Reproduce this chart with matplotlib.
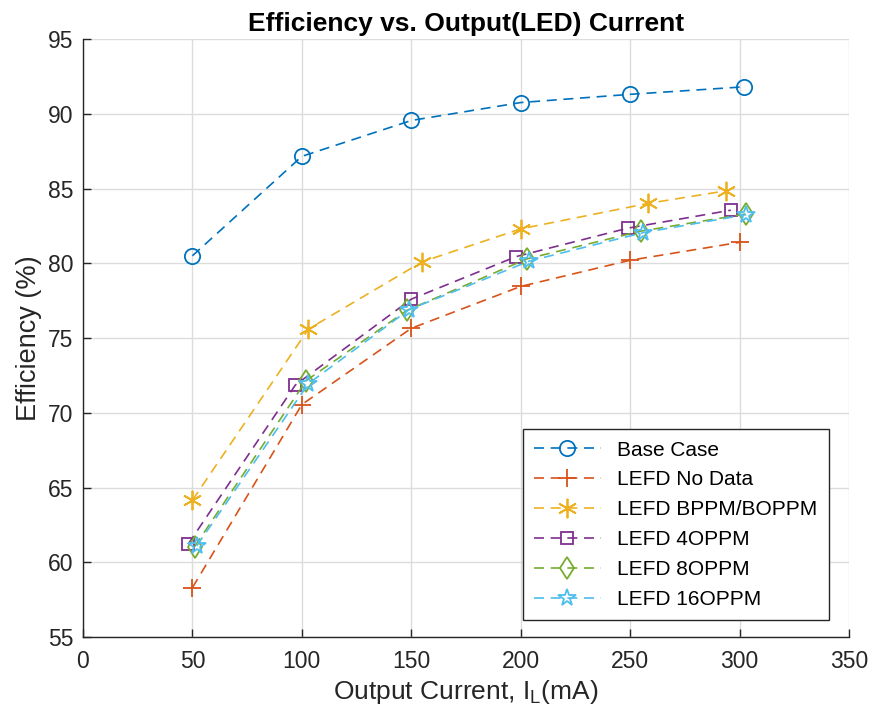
import matplotlib
matplotlib.use("Agg")
import matplotlib.pyplot as plt

plt.rcParams['font.family'] = ['Liberation Sans', 'DejaVu Sans']

# Data (x in mA, y in %)
base_x = [50, 100, 150, 200, 250, 302]
base_y = [80.5, 87.15, 89.55, 90.75, 91.3, 91.8]

nodata_x = [50, 100, 150, 200, 250, 300]
nodata_y = [58.3, 70.55, 75.65, 78.45, 80.2, 81.4]

bppm_x = [50, 103, 155, 200, 258, 294]
bppm_y = [64.15, 75.6, 80.1, 82.3, 84.0, 84.85]

oppm4_x = [48, 97, 150, 198, 249, 296]
oppm4_y = [61.2, 71.85, 77.6, 80.45, 82.35, 83.55]

oppm8_x = [51, 102, 148, 203, 255, 303]
oppm8_y = [61.05, 72.15, 76.85, 80.3, 82.15, 83.3]

oppm16_x = [52, 103, 149, 204, 256, 303]
oppm16_y = [61.1, 71.95, 76.9, 80.15, 82.05, 83.25]

# (x, y, label, colour, marker, marker size)
series = [
    (base_x, base_y, 'Base Case', '#0072BD', 'o', 11),
    (nodata_x, nodata_y, 'LEFD No Data', '#D95319', '+', 13),
    (bppm_x, bppm_y, 'LEFD BPPM/BOPPM', '#EDB120', (6, 2, 0), 14),
    (oppm4_x, oppm4_y, 'LEFD 4OPPM', '#7E2F8E', 's', 9),
    (oppm8_x, oppm8_y, 'LEFD 8OPPM', '#77AC30', 'd', 11.5),
    (oppm16_x, oppm16_y, 'LEFD 16OPPM', '#4DBEEE', '*', 13),
]

fig = plt.figure(figsize=(8.7, 7.21), dpi=100)
ax = fig.add_axes([0.0954, 0.1165, 0.8805, 0.8294])

for x, y, label, color, marker, ms in series:
    ax.plot(x, y, linestyle=(0, (6, 4)), color=color, linewidth=1.2,
            marker=marker, markersize=ms, markerfacecolor='none',
            markeredgecolor=color, markeredgewidth=1.3, label=label)

ax.set_xlim(0, 350)
ax.set_ylim(55, 95)
ax.set_xticks(range(0, 351, 50))
ax.set_yticks(range(55, 96, 5))
ax.grid(True, color='#dcdcdc', linewidth=1.0)
ax.set_axisbelow(True)
ax.tick_params(direction='in', labelsize=16.5, length=6, width=1, colors='#262626')
ax.tick_params(axis='x', pad=9)
ax.tick_params(axis='y', pad=7)
for side in ('top', 'right'):
    ax.spines[side].set_visible(False)
for side in ('left', 'bottom'):
    ax.spines[side].set_color('#262626')
    ax.spines[side].set_linewidth(1.0)

ax.set_xlabel('Output Current, I$_\\mathregular{L}$(mA)', fontsize=19, color='#262626', labelpad=4)
ax.set_ylabel('Efficiency (%)', fontsize=19.5, color='#262626', labelpad=4)
ax.set_title('Efficiency vs. Output(LED) Current', fontsize=19, fontweight='bold', pad=6)

leg = ax.legend(loc='lower right', bbox_to_anchor=(0.974, 0.028), borderaxespad=0,
                fontsize=15, frameon=True, fancybox=False, edgecolor='#262626',
                framealpha=1, handlelength=3.2, borderpad=0.55, labelspacing=0.52)
leg.get_frame().set_linewidth(1.0)

fig.savefig('out.png', dpi=100)
